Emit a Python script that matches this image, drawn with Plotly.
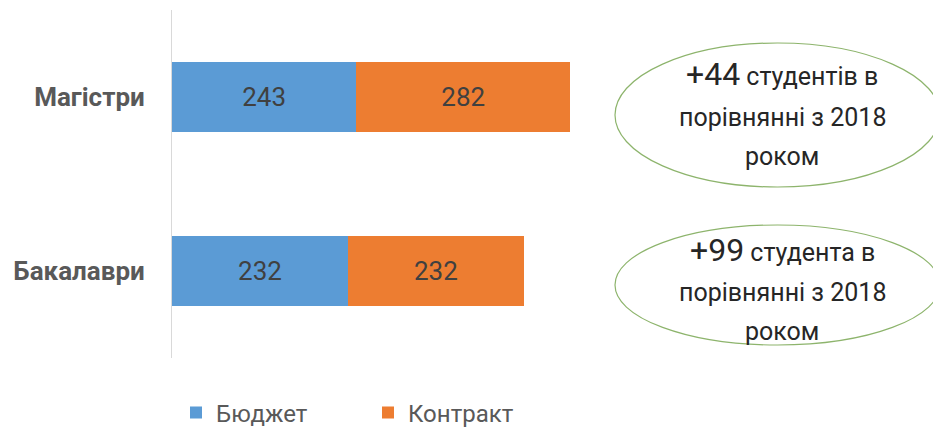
import plotly.graph_objects as go

categories = ["Бакалаври", "Магістри"]
budget = [232, 243]
contract = [232, 282]
series_names = ["Бюджет", "Контракт"]
notes = [
    ("+44", "студентів в", "порівнянні з 2018", "роком"),
    ("+99", "студента в", "порівнянні з 2018", "роком"),
]

# the page body has an 8px default margin; lay out in page pixels
OFF = 8
W, H = 941 - OFF, 433 - OFF
ML, MT = 172 - OFF, 10 - OFF
PR, PB = 627 - OFF, 358 - OFF      # plot right / bottom in figure px
MR, MB = W - PR, H - PB
pw = PR - ML
ph = PB - MT

def px(x):
    return (x - OFF - ML) / pw

def py(y):
    return (PB - (y - OFF)) / ph

FONT = "Roboto, 'Noto Sans', sans-serif"

fig = go.Figure()
fig.add_trace(go.Bar(
    y=categories, x=budget, name=series_names[0], orientation="h",
    marker=dict(color="#5B9BD5", line=dict(width=0)),
    text=budget, textposition="inside", insidetextanchor="middle",
    textfont=dict(color="#404040", size=26, family=FONT),
))
fig.add_trace(go.Bar(
    y=categories, x=contract, name=series_names[1], orientation="h",
    marker=dict(color="#ED7D31", line=dict(width=0)),
    text=contract, textposition="inside", insidetextanchor="middle",
    textfont=dict(color="#404040", size=26, family=FONT),
))

shapes = []
annotations = []
boxes = [((43, 187), notes[0], (74, 117, 156)), ((225, 345), notes[1], (250, 292, 331))]
for (top, bot), note, lines in boxes:
    shapes.append(dict(
        type="circle", xref="paper", yref="paper",
        x0=px(615), x1=px(940), y0=py(bot), y1=py(top),
        line=dict(color="#8DB46C", width=1.2), fillcolor="rgba(255,255,255,0.9)",
        layer="above",
    ))
    cx = px(782)
    texts = [f"<span style='font-size:32px'>{note[0]}</span> {note[1]}", note[2], note[3]]
    for t, ly in zip(texts, lines):
        annotations.append(dict(
            xref="paper", yref="paper", x=cx, y=py(ly), showarrow=False,
            xanchor="center", yanchor="middle", text=t,
            font=dict(size=25, color="#262626", family=FONT),
        ))

fig.update_layout(
    width=W, height=H,
    margin=dict(l=ML, r=MR, t=MT, b=MB, pad=0, autoexpand=False),
    barmode="stack", bargap=0.6,
    paper_bgcolor="#FFFFFF", plot_bgcolor="rgba(0,0,0,0)",
    font=dict(family=FONT),
    xaxis=dict(range=[0, 600], visible=False, showgrid=False, zeroline=False),
    yaxis=dict(
        range=[-0.5, 1.5], showline=True, linecolor="#D9D9D9", linewidth=1,
        ticks="", showgrid=False, ticklabelstandoff=21, automargin=False,
        tickfont=dict(size=26, color="#595959", family=FONT, weight="bold"),
    ),
    legend=dict(
        orientation="h", x=px(176), y=py(413), xanchor="left", yanchor="middle",
        font=dict(size=24, color="#595959", family=FONT),
        entrywidth=147, traceorder="normal", bgcolor="rgba(0,0,0,0)",
    ),
    shapes=shapes, annotations=annotations,
)

fig.write_html("out.html")
